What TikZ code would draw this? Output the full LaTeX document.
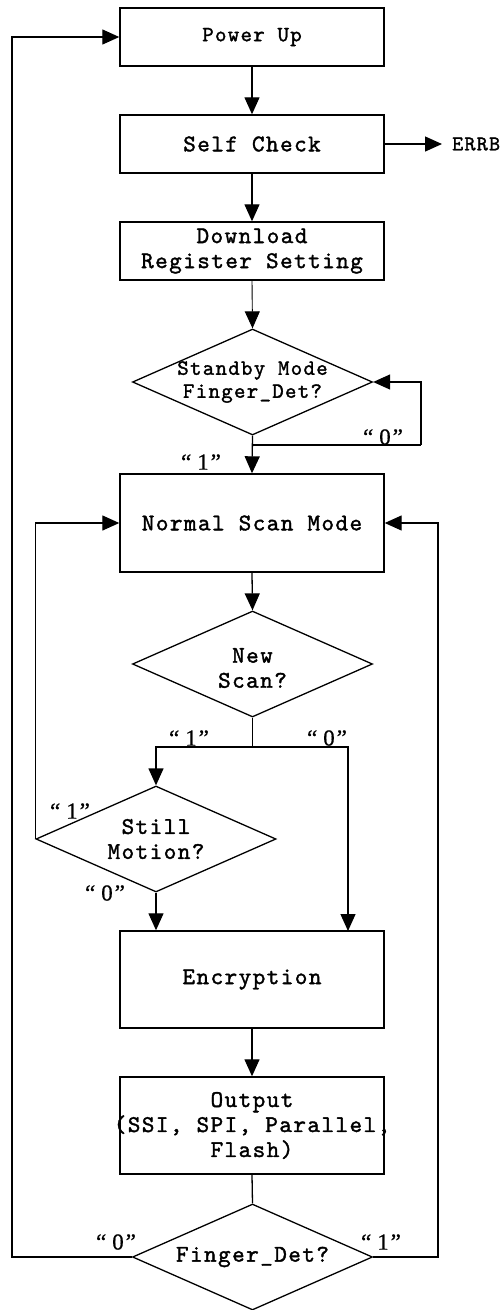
\documentclass[tikz,border=0pt]{standalone}
\usepackage{fontspec}
\newfontfamily\mono[Extension=.otf, LetterSpace=6, FakeBold=1.5]{lmmono10-regular}
\newfontfamily\qfont[FakeBold=0.5]{Liberation Serif}
\usetikzlibrary{shapes.geometric, arrows.meta}
\newcommand\txtbig{\mono\fontsize{24}{25}\selectfont}
\newcommand\txtmid{\mono\fontsize{21.8}{23}\selectfont}
\newcommand\txtsmall{\mono\fontsize{21}{22}\selectfont}
\newcommand\qlbl[1]{\qfont\fontsize{23}{24}\selectfont “\hspace{6pt}#1\hspace{2pt}”}

\begin{document}
\begin{tikzpicture}[x=1pt, y=-1pt,
  every node/.style={font=\txtbig},
  box/.style={draw, line width=1.4pt, minimum width=264pt, inner sep=0pt, align=center},
  decision/.style={draw, diamond, line width=1.3pt, inner sep=0pt,
                   minimum width=240pt, minimum height=106pt},
  dtext/.style={align=center, font=\txtbig, inner sep=0pt},
  lbl/.style={inner sep=0pt},
  arr/.style={line width=1.3pt, -{Triangle[length=17pt, width=15pt]}},
  wire/.style={line width=1.3pt}]
\useasboundingbox (0,0) rectangle (501,1310);

% process boxes
\node[box, minimum height=58pt, font=\txtmid] (pu) at (252,37) {Power Up};
\node[box, minimum height=58pt] (sc) at (252,144) {Self Check};
\node[box, minimum height=58pt] (dl) at (252,251) {Download\\Register Setting};
\node[box, minimum height=98pt] (ns) at (252,523) {Normal Scan Mode};
\node[box, minimum height=97pt] (enc) at (252,979.5) {Encryption};
\node[box, minimum height=97pt] (out) at (252,1125.5)
  {Output\\\makebox[264pt][c]{(SSI, SPI, Parallel,}\\Flash)};

% decisions
\node[decision, label={[dtext, font=\txtmid]center:Standby Mode\\Finger\_Det?}] (sb) at (252.5,382) {};
\node[decision, label={[dtext, yshift=-4pt]center:New\\Scan?}] (nsd) at (252.5,664) {};
\node[decision, label={[dtext]center:Still\\Motion?}] (sm) at (156,839) {};
\node[decision, label={[dtext]center:Finger\_Det?}] (fd) at (252.5,1257) {};

% error output
\node[anchor=west, inner xsep=10pt, inner ysep=0pt, font=\txtsmall] (errb) at (442,144) {ERRB};

% branch labels
\node[lbl] (sb0) at (383,437) {\qlbl{0}};
\node[lbl] (sb1) at (201,462) {\qlbl{1}};
\node[lbl] (nsd1) at (189,738) {\qlbl{1}};
\node[lbl] (nsd0) at (327,738) {\qlbl{0}};
\node[lbl] (sm1) at (70,811) {\qlbl{1}};
\node[lbl] (sm0) at (105,893) {\qlbl{0}};
\node[lbl] (fd0) at (116,1242) {\qlbl{0}};
\node[lbl] (fd1) at (381,1242) {\qlbl{1}};

% routing points
\coordinate (j0) at (252.5,445);
\coordinate (sbl) at (421,445);
\coordinate (br) at (252.5,747);
\coordinate (encin) at (348,931);
\coordinate (lft) at (12,1257);
\coordinate (rgt) at (438,1257);

% connectors
\draw[arr] (pu) -- (sc);
\draw[arr] (sc) -- (errb.west);
\draw[arr] (sc) -- (dl);
\draw[arr, line width=0.9pt] (dl.south) -- (sb.north);
\draw[arr] (sb.south) -- (ns.north);
\draw[wire] (j0) -- (sbl);
\draw[arr] (sbl) |- (sb.east);
\draw[arr] (ns.south) -- (nsd.north);
\draw[wire] (nsd.south) -- (br);
\draw[arr] (br) -| (sm.north);
\draw[arr] (br) -| (encin);
\draw[arr] (sm.south) -- (sm.south |- enc.north);
\draw[arr] (sm.west) |- (ns.west);
\draw[arr] (enc) -- (out);
\draw[wire] (out.south) -- (fd.north);
\draw[arr] (fd.west) -- (lft) |- (pu.west);
\draw[arr] (fd.east) -- (rgt) |- (ns.east);
\end{tikzpicture}
\end{document}
